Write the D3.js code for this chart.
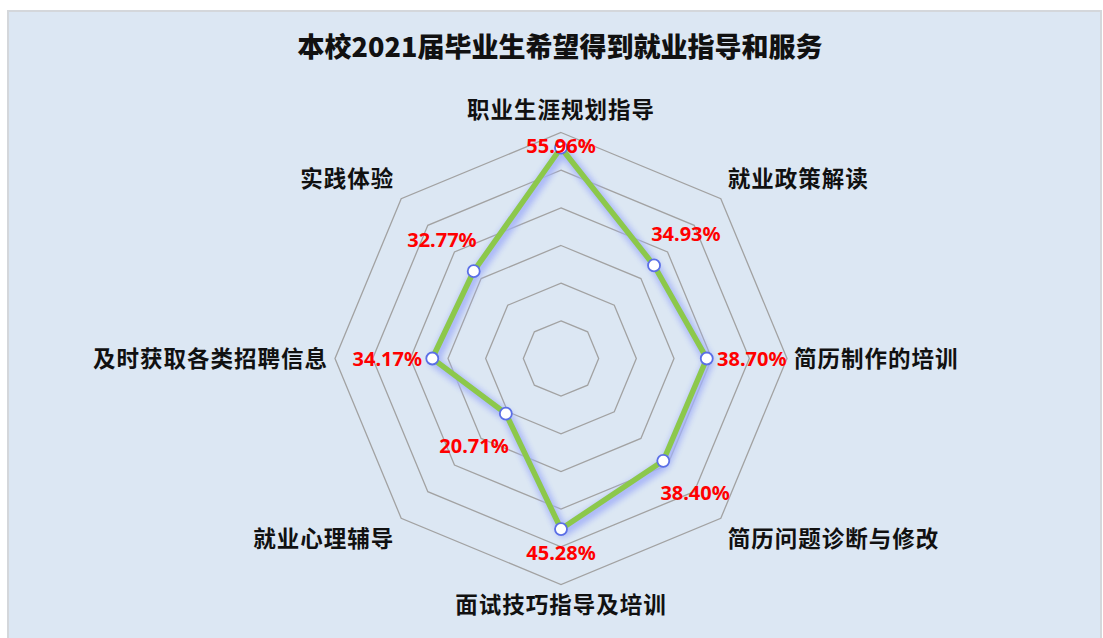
<!DOCTYPE html>
<html>
<head>
<meta charset="utf-8">
<script src="https://cdn.jsdelivr.net/npm/d3@7"></script>
<style>
  html, body { margin: 0; padding: 0; background: #ffffff; }
  svg { display: block; }
</style>
</head>
<body>
<svg id="chart" width="1103" height="638"></svg>
<script>
// Survey items, clockwise from the top
const categories = [
  "职业生涯规划指导",
  "就业政策解读",
  "简历制作的培训",
  "简历问题诊断与修改",
  "面试技巧指导及培训",
  "就业心理辅导",
  "及时获取各类招聘信息",
  "实践体验"
];
// Share of graduates wanting each kind of guidance (%)
const values = [55.96, 34.93, 38.70, 38.40, 45.28, 20.71, 34.17, 32.77];
// Grid rings (%)
const ringTicks = [10, 20, 30, 40, 50, 60];
const title = "本校2021届毕业生希望得到就业指导和服务";

const W = 1103, H = 638;
const cx = 561, cy = 358.5, outerR = 226;

const svg = d3.select("#chart");

// Chart area background with a thin border
svg.append("rect")
  .attr("x", 8).attr("y", 11)
  .attr("width", 1093).attr("height", 640)
  .attr("fill", "#dce7f3")
  .attr("stroke", "#d4d7db")
  .attr("stroke-width", 2);

svg.append("text")
  .attr("x", 560).attr("y", 57)
  .attr("text-anchor", "middle")
  .attr("font-family", "'Noto Sans CJK SC', sans-serif")
  .attr("font-weight", 900)
  .attr("font-size", 27)
  .attr("fill", "#111")
  .text(title);

const r = d3.scaleLinear().domain([0, d3.max(ringTicks)]).range([0, outerR]);
const angle = d3.scalePoint()
  .domain(d3.range(categories.length))
  .range([0, 2 * Math.PI * (categories.length - 1) / categories.length]);

const g = svg.append("g").attr("transform", `translate(${cx},${cy})`);

const polar = (i, v) => {
  const a = angle(i);
  return [Math.sin(a) * r(v), -Math.cos(a) * r(v)];
};

// Octagonal grid rings
const ringLine = d3.line().curve(d3.curveLinearClosed);
g.append("g").selectAll("path")
  .data(ringTicks)
  .join("path")
  .attr("d", t => ringLine(categories.map((_, i) => polar(i, t))))
  .attr("fill", "none")
  .attr("stroke", "#a2a2a2")
  .attr("stroke-width", 1.3);

// Soft blue glow under the series line
const defs = svg.append("defs");
defs.append("filter").attr("id", "glow")
  .attr("x", "-20%").attr("y", "-20%").attr("width", "140%").attr("height", "140%")
  .append("feGaussianBlur").attr("stdDeviation", 3);

const pts = values.map((v, i) => polar(i, v));
const seriesLine = d3.line().curve(d3.curveLinearClosed);

g.append("path")
  .attr("d", seriesLine(pts))
  .attr("transform", "translate(2,3)")
  .attr("fill", "none")
  .attr("stroke", "#a3b1f8")
  .attr("stroke-width", 10)
  .attr("stroke-linejoin", "round")
  .attr("opacity", 0.9)
  .attr("filter", "url(#glow)");

g.append("path")
  .attr("d", seriesLine(pts))
  .attr("fill", "none")
  .attr("stroke", "#8cc84b")
  .attr("stroke-width", 5.5)
  .attr("stroke-linejoin", "miter");

// Markers
g.append("g").selectAll("circle")
  .data(values)
  .join("circle")
  .attr("cx", (v, i) => polar(i, v)[0])
  .attr("cy", (v, i) => polar(i, v)[1])
  .attr("r", 6)
  .attr("fill", "#ffffff")
  .attr("stroke", "#5b6fe6")
  .attr("stroke-width", 1.8);

// Value labels, pushed outward from each point
const sgn = x => Math.abs(x) < 0.1 ? 0 : Math.sign(x);
const topLimit = -outerR + 13;
g.append("g").selectAll("text")
  .data(values)
  .join("text")
  .attr("x", (v, i) => {
    const [x] = polar(i, v);
    return x + Math.sin(angle(i)) * 45;
  })
  .attr("y", (v, i) => {
    const [, y] = polar(i, v);
    const c = -Math.cos(angle(i));
    const d = sgn(Math.sin(angle(i))) === 0 ? 24 : 45;
    return Math.max(y + c * d, topLimit);
  })
  .attr("dy", "0.36em")
  .attr("text-anchor", "middle")
  .attr("font-family", "'Noto Sans', 'DejaVu Sans', sans-serif")
  .attr("font-weight", 700)
  .attr("font-size", 20)
  .attr("fill", "#ff0000")
  .text(v => v.toFixed(2) + "%");

// Category labels around the outer ring
g.append("g").selectAll("text")
  .data(categories)
  .join("text")
  .attr("x", (c, i) => {
    const [x] = polar(i, d3.max(ringTicks));
    return x + sgn(Math.sin(angle(i))) * 7;
  })
  .attr("y", (c, i) => {
    const [, y] = polar(i, d3.max(ringTicks));
    const s = sgn(-Math.cos(angle(i)));
    return y + s * (s < 0 && sgn(Math.sin(angle(i))) === 0 ? 23 : 20.5);
  })
  .attr("dy", "0.37em")
  .attr("text-anchor", (c, i) => {
    const s = sgn(Math.sin(angle(i)));
    return s > 0 ? "start" : s < 0 ? "end" : "middle";
  })
  .attr("font-family", "'Noto Sans CJK SC', sans-serif")
  .attr("font-weight", 700)
  .attr("font-size", 22.5)
  .attr("letter-spacing", 1)
  .attr("fill", "#111")
  .text(c => c);
</script>
</body>
</html>
